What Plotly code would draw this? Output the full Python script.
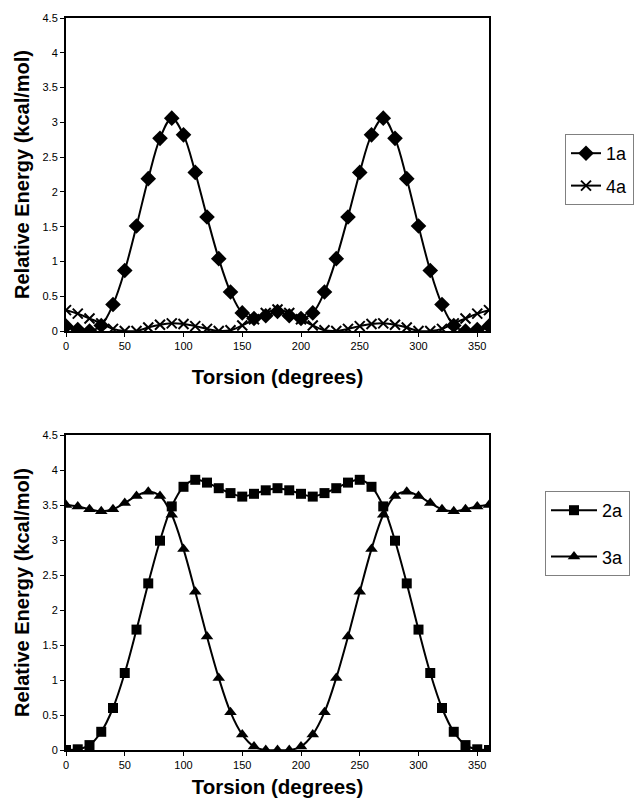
import plotly.graph_objects as go

torsion = list(range(0, 361, 10))

e_1a = [0.07, 0.02, 0.00, 0.08, 0.38, 0.87, 1.51, 2.19, 2.77, 3.06, 2.82, 2.28, 1.64, 1.04, 0.56, 0.26, 0.18, 0.22, 0.28,
        0.22, 0.18, 0.26, 0.56, 1.04, 1.64, 2.28, 2.82, 3.06, 2.77, 2.19, 1.51, 0.87, 0.38, 0.08, 0.00, 0.02, 0.07]
e_4a = [0.30, 0.25, 0.18, 0.11, 0.03, 0.00, 0.00, 0.05, 0.09, 0.11, 0.10, 0.07, 0.03, 0.00, 0.01, 0.08, 0.17, 0.26, 0.31,
        0.26, 0.17, 0.08, 0.01, 0.00, 0.03, 0.07, 0.10, 0.11, 0.09, 0.05, 0.00, 0.00, 0.03, 0.11, 0.18, 0.25, 0.30]
e_2a = [0.00, 0.01, 0.07, 0.26, 0.60, 1.10, 1.72, 2.38, 2.99, 3.48, 3.76, 3.86, 3.82, 3.74, 3.67, 3.62, 3.66, 3.71, 3.74,
        3.71, 3.66, 3.62, 3.67, 3.74, 3.82, 3.86, 3.76, 3.48, 2.99, 2.38, 1.72, 1.10, 0.60, 0.26, 0.07, 0.01, 0.00]
e_3a = [3.50, 3.48, 3.44, 3.41, 3.44, 3.53, 3.63, 3.69, 3.63, 3.36, 2.87, 2.26, 1.62, 1.03, 0.54, 0.22, 0.05, 0.00, 0.00,
        0.00, 0.05, 0.22, 0.54, 1.03, 1.62, 2.26, 2.87, 3.36, 3.63, 3.69, 3.63, 3.53, 3.44, 3.41, 3.44, 3.48, 3.50]

x_ticks = [0, 50, 100, 150, 200, 250, 300, 350]
y_ticks = [0, 0.5, 1, 1.5, 2, 2.5, 3, 3.5, 4, 4.5]
y_tick_text = ["0", "0.5", "1", "1.5", "2", "2.5", "3", "3.5", "4", "4.5"]

W, H = 635, 798
FONT = "Liberation Sans, Arial, sans-serif"

def fx(px):
    return px / W

def fy(py):
    return 1 - py / H

fig = go.Figure()

def add(y, name, symbol, xa, ya, legend, group, size, open_x=False):
    marker = dict(symbol=symbol, size=size, color="black")
    if open_x:
        marker["line"] = dict(color="black", width=2)
    fig.add_trace(go.Scatter(
        x=torsion, y=y, name=name, mode="lines+markers",
        line=dict(color="black", width=2, shape="spline"),
        marker=marker, xaxis=xa, yaxis=ya, legend=legend, legendgroup=group,
    ))

add(e_1a, "1a", "diamond", "x", "y", "legend", "g1", 12)
add(e_4a, "4a", "x-thin", "x", "y", "legend", "g2", 10, open_x=True)
add(e_2a, "2a", "square", "x2", "y2", "legend2", "g3", 10)
add(e_3a, "3a", "triangle-up", "x2", "y2", "legend2", "g4", 11)

xdom = [fx(66), fx(489)]
ydom_top = [fy(331), fy(18)]
ydom_bot = [fy(750), fy(435)]

axis_common = dict(
    showline=True, linecolor="black", linewidth=2, mirror=True, automargin=False,
    showgrid=False, zeroline=False, ticks="outside", ticklen=4, tickwidth=1, tickcolor="black",
    tickfont=dict(family=FONT, size=11, color="black"),
)

xtitle_font = dict(family=FONT, size=20.5, color="black", weight="bold")
ytitle_font = dict(family=FONT, size=20, color="black", weight="bold")

fig.update_layout(
    width=W, height=H,
    margin=dict(l=0, r=0, t=0, b=0),
    paper_bgcolor="white", plot_bgcolor="white",
    font=dict(family=FONT, color="black"),
    xaxis=dict(axis_common, domain=xdom, anchor="y", range=[0, 360], tickvals=x_ticks,
               title=dict(text="Torsion (degrees)", font=xtitle_font, standoff=18)),
    yaxis=dict(axis_common, domain=ydom_top, anchor="x", range=[0, 4.5], tickvals=y_ticks, ticktext=y_tick_text,
               title=dict(text="Relative Energy (kcal/mol)", font=ytitle_font, standoff=8)),
    xaxis2=dict(axis_common, domain=xdom, anchor="y2", range=[0, 360], tickvals=x_ticks,
                title=dict(text="Torsion (degrees)", font=xtitle_font, standoff=12)),
    yaxis2=dict(axis_common, domain=ydom_bot, anchor="x2", range=[0, 4.5], tickvals=y_ticks, ticktext=y_tick_text,
                title=dict(text="Relative Energy (kcal/mol)", font=ytitle_font, standoff=8)),
    legend=dict(x=fx(565), y=fy(134), xanchor="left", yanchor="top",
                bordercolor="#808080", borderwidth=1, bgcolor="white",
                font=dict(family=FONT, size=18, color="black"), tracegroupgap=6),
    legend2=dict(x=fx(545), y=fy(491), xanchor="left", yanchor="top", itemwidth=46,
                 bordercolor="#808080", borderwidth=1, bgcolor="white",
                 font=dict(family=FONT, size=18, color="black"), tracegroupgap=20),
    showlegend=True,
)

fig.write_html(
    "out.html",
    config={"displayModeBar": False},
    post_script="document.body.style.margin='0';document.body.style.overflow='hidden';",
)
